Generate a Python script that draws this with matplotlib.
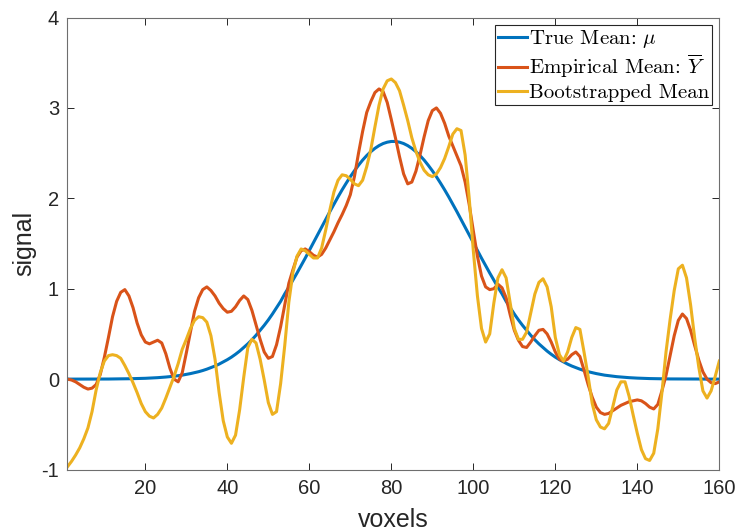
import numpy as np
import matplotlib
matplotlib.use("Agg")
import matplotlib.pyplot as plt

voxels = list(range(1, 161))

true_mean = [
    0.0, 0.0, 0.0, 0.0, 0.0, 0.0, 0.001, 0.001, 0.001, 0.001,
    0.001, 0.002, 0.002, 0.003, 0.003, 0.004, 0.005, 0.006, 0.008, 0.009,
    0.011, 0.013, 0.016, 0.019, 0.023, 0.027, 0.032, 0.038, 0.044, 0.052,
    0.061, 0.071, 0.082, 0.095, 0.11, 0.127, 0.145, 0.166, 0.19, 0.215,
    0.243, 0.275, 0.31, 0.35, 0.39, 0.435, 0.485, 0.54, 0.595, 0.655,
    0.72, 0.79, 0.86, 0.943, 1.017, 1.095, 1.174, 1.255, 1.338, 1.423,
    1.509, 1.595, 1.681, 1.767, 1.852, 1.935, 2.016, 2.094, 2.168, 2.239,
    2.305, 2.366, 2.423, 2.473, 2.516, 2.553, 2.583, 2.606, 2.621, 2.629,
    2.629, 2.621, 2.606, 2.583, 2.553, 2.516, 2.473, 2.423, 2.366, 2.305,
    2.239, 2.168, 2.094, 2.016, 1.935, 1.852, 1.767, 1.681, 1.595, 1.509,
    1.423, 1.338, 1.255, 1.174, 1.095, 1.017, 0.943, 0.86, 0.79, 0.72,
    0.655, 0.595, 0.54, 0.485, 0.435, 0.39, 0.35, 0.31, 0.275, 0.243,
    0.215, 0.19, 0.166, 0.145, 0.127, 0.11, 0.095, 0.082, 0.071, 0.061,
    0.052, 0.044, 0.038, 0.032, 0.027, 0.023, 0.019, 0.016, 0.013, 0.011,
    0.009, 0.008, 0.006, 0.005, 0.004, 0.003, 0.003, 0.002, 0.002, 0.001,
    0.001, 0.001, 0.001, 0.001, 0.001, 0.0, 0.0, 0.0, 0.0, 0.0,
]

empirical_mean = [
    0.00, -0.01, -0.03, -0.06, -0.09, -0.11, -0.10, -0.06, 0.05, 0.24,
    0.46, 0.69, 0.86, 0.96, 0.99, 0.92, 0.79, 0.62, 0.49, 0.41,
    0.39, 0.41, 0.43, 0.40, 0.28, 0.12, 0.00, -0.03, 0.07, 0.29,
    0.52, 0.75, 0.90, 0.99, 1.02, 0.98, 0.92, 0.84, 0.78, 0.74,
    0.75, 0.80, 0.87, 0.92, 0.88, 0.76, 0.60, 0.44, 0.30, 0.23,
    0.25, 0.38, 0.58, 0.82, 1.06, 1.21, 1.35, 1.42, 1.44, 1.41,
    1.37, 1.35, 1.38, 1.45, 1.54, 1.63, 1.73, 1.82, 1.92, 2.04,
    2.24, 2.50, 2.74, 2.95, 3.07, 3.17, 3.21, 3.18, 3.06, 2.87,
    2.67, 2.46, 2.27, 2.16, 2.18, 2.30, 2.48, 2.68, 2.86, 2.97,
    3.00, 2.94, 2.83, 2.69, 2.58, 2.47, 2.36, 2.18, 1.93, 1.64,
    1.36, 1.14, 1.02, 0.99, 1.00, 1.05, 1.01, 0.90, 0.71, 0.54,
    0.43, 0.36, 0.35, 0.41, 0.48, 0.54, 0.55, 0.50, 0.41, 0.30,
    0.22, 0.20, 0.22, 0.27, 0.30, 0.25, 0.10, -0.06, -0.20, -0.31,
    -0.37, -0.39, -0.38, -0.35, -0.32, -0.29, -0.27, -0.25, -0.24, -0.23,
    -0.24, -0.27, -0.31, -0.33, -0.28, -0.13, 0.04, 0.26, 0.48, 0.65,
    0.72, 0.67, 0.54, 0.37, 0.21, 0.08, 0.00, -0.04, -0.05, -0.03,
]

bootstrapped_mean = [
    -0.97, -0.91, -0.84, -0.76, -0.66, -0.54, -0.36, -0.12, 0.07, 0.20,
    0.26, 0.27, 0.26, 0.23, 0.15, 0.06, -0.04, -0.15, -0.27, -0.36,
    -0.41, -0.43, -0.39, -0.32, -0.21, -0.09, 0.03, 0.17, 0.33, 0.44,
    0.56, 0.65, 0.69, 0.68, 0.63, 0.48, 0.22, -0.15, -0.46, -0.64,
    -0.71, -0.62, -0.34, 0.02, 0.35, 0.44, 0.40, 0.22, -0.01, -0.26,
    -0.39, -0.36, -0.05, 0.37, 0.85, 1.18, 1.36, 1.44, 1.42, 1.38,
    1.34, 1.34, 1.45, 1.65, 1.87, 2.07, 2.20, 2.26, 2.25, 2.21,
    2.16, 2.14, 2.20, 2.35, 2.54, 2.79, 3.03, 3.21, 3.30, 3.32,
    3.28, 3.19, 3.03, 2.86, 2.67, 2.52, 2.40, 2.31, 2.26, 2.24,
    2.27, 2.34, 2.44, 2.57, 2.71, 2.77, 2.75, 2.48, 2.00, 1.42,
    0.92, 0.56, 0.41, 0.50, 0.84, 1.12, 1.21, 1.12, 0.84, 0.56,
    0.44, 0.44, 0.52, 0.73, 0.94, 1.07, 1.11, 1.02, 0.80, 0.46,
    0.27, 0.20, 0.30, 0.46, 0.57, 0.55, 0.30, 0.03, -0.27, -0.45,
    -0.53, -0.55, -0.49, -0.31, -0.12, -0.03, -0.03, -0.19, -0.40, -0.60,
    -0.78, -0.88, -0.90, -0.82, -0.55, -0.15, 0.30, 0.66, 0.98, 1.22,
    1.26, 1.12, 0.82, 0.45, 0.13, -0.13, -0.21, -0.13, 0.03, 0.20,
]

x_ticks = [20, 40, 60, 80, 100, 120, 140, 160]
y_ticks = [-1, 0, 1, 2, 3, 4]
labels = [r"True Mean: $\mu$", r"Empirical Mean: $\overline{Y}$", "Bootstrapped Mean"]
colors = ["#0072BD", "#D95319", "#EDB120"]

plt.rcParams["mathtext.fontset"] = "cm"
plt.rcParams["axes.unicode_minus"] = False
plt.rcParams["font.family"] = ["Liberation Sans", "DejaVu Sans"]

fig = plt.figure(figsize=(7.37, 5.31), dpi=100)
ax = fig.add_axes([0.0915, 0.1158, 0.976 - 0.0915, 0.967 - 0.1158])

for series, lab, col in zip([true_mean, empirical_mean, bootstrapped_mean], labels, colors):
    ax.plot(voxels, series, color=col, lw=2.2, label=lab, solid_joinstyle="round")

ax.set_xlim(1, 160)
ax.set_ylim(-1, 4)
ax.set_xticks(x_ticks)
ax.set_yticks(y_ticks)
ax.tick_params(direction="in", length=4.8, width=0.7, top=True, right=True,
               labelsize=14.5, colors="#262626", pad=7)
ax.tick_params(axis="y", pad=6)
for s in ax.spines.values():
    s.set_color("#6e6e6e")
    s.set_linewidth(0.8)

ax.set_xlabel("voxels", fontsize=18, color="#262626", labelpad=7)
ax.set_ylabel("signal", fontsize=18, color="#262626", labelpad=4)

leg = ax.legend(loc="upper right", prop={"family": "cmr10", "size": 15},
                fancybox=False, framealpha=1, edgecolor="#262626",
                handlelength=1.35, handletextpad=0.1, labelspacing=0.15,
                borderpad=0.15, borderaxespad=0.35)
leg.get_frame().set_linewidth(0.8)

fig.savefig("out.png", dpi=100)
